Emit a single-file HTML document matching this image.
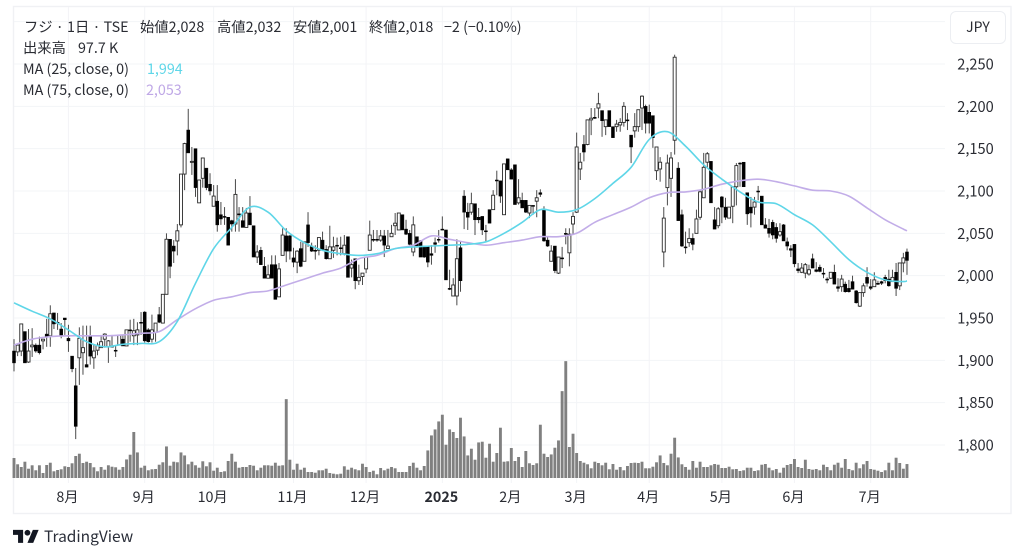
<!DOCTYPE html>
<html lang="ja">
<head>
<meta charset="utf-8">
<title>フジ 1日 TSE</title>
<style>
html,body{margin:0;padding:0;background:#fff;}
#chart{position:relative;width:1024px;height:558px;overflow:hidden;background:#fff;font-family:"Noto Sans CJK JP","Liberation Sans",sans-serif;color:#2a2c33;}
#chart svg{position:absolute;left:0;top:0;}
.t{position:absolute;white-space:nowrap;font-size:14.3px;line-height:20px;}
#jpy{position:absolute;left:950px;top:11px;width:54px;height:31px;border:1px solid #eceef2;border-radius:6px;text-align:center;line-height:31px;font-size:14px;color:#2a2c33;background:#fff;}
</style>
</head>
<body>
<div id="chart">
<svg id="plot" width="1024" height="558" viewBox="0 0 1024 558"></svg>
<div class="t" style="left:24px;top:17px">フジ · 1日 · TSE</div>
<div class="t" style="left:140px;top:17px">始値2,028</div>
<div class="t" style="left:217px;top:17px">高値2,032</div>
<div class="t" style="left:293px;top:17px">安値2,001</div>
<div class="t" style="left:369px;top:17px">終値2,018</div>
<div class="t" style="left:444px;top:17px">−2 (−0.10%)</div>
<div class="t" style="left:23px;top:38px">出来高</div>
<div class="t" style="left:78px;top:38px">97.7 K</div>
<div class="t" style="left:23px;top:59px">MA (25, close, 0)</div>
<div class="t" style="left:147px;top:59px;color:#5fd6e8">1,994</div>
<div class="t" style="left:23px;top:80px">MA (75, close, 0)</div>
<div class="t" style="left:146px;top:80px;color:#bfa8e6">2,053</div>
<div id="jpy">JPY</div>
<svg width="26" height="14" viewBox="0 0 36 19" style="left:13px;top:529px"><path d="M14 19H7V8H0V1h14v18zM28 19h-8l7.5-18h8L28 19z" fill="#131722"/><circle cx="20" cy="5" r="4" fill="#131722"/></svg>
<div class="t" style="left:44px;top:526px;font-size:15.5px;color:#2a2e39">TradingView</div>
</div>
<script>
const opens = [1911,1910,1911,1934,1898,1916,1918,1918,1923,1931,
1929,1956,1945,1937,1950,1926,1905,1870,1903,1909,
1895,1929,1903,1912,1915,1925,1916,1916,1912,1918,
1925,1917,1936,1929,1930,1945,1957,1936,1925,1933,
1954,1944,1978,2043,2035,2041,2060,2120,2172,2134,
2150,2086,2115,2127,2108,2082,2088,2072,2070,2069,
2065,2061,2073,2065,2057,2074,2059,2022,2030,2011,
1997,2013,2013,1975,2024,2047,2047,2021,2016,2032,
2017,2060,2035,2030,2030,2042,2031,2020,2030,2036,
2033,2026,2046,2009,2020,1994,1999,2008,2030,2043,
2043,2042,2047,2032,2046,2059,2054,2072,2055,2050,
2028,2046,2041,2035,2035,2026,2039,2043,2055,2054,
1985,1976,1976,2033,2094,2075,2075,2085,2069,2070,
2053,2078,2078,2113,2112,2072,2138,2125,2131,2086,
2089,2089,2074,2083,2088,2098,2078,2042,2017,2035,
2003,2021,2050,2027,2061,2075,2126,2155,2155,2184,
2187,2198,2195,2176,2195,2176,2176,2178,2181,2184,
2166,2171,2176,2198,2200,2193,2189,2124,2126,2028,
2104,2115,2160,2127,2072,2034,2039,2044,2050,2069,
2092,2134,2135,2066,2059,2093,2081,2068,2082,2105,
2133,2134,2098,2081,2081,2100,2094,2060,2056,2063,
2057,2048,2060,2040,2032,2037,2008,2004,2003,2002,
2020,2007,2010,2003,1996,1997,2004,1987,1987,1990,
1985,1993,1982,1964,1980,1998,1987,1987,1991,1993,
1998,1996,1993,2004,1988,2015,2028];
const highs = [1925,1918,1943,1934,1937,1938,1920,1928,1925,1949,
1965,1956,1956,1944,1950,1942,1905,1891,1939,1941,
1941,1941,1918,1921,1930,1932,1924,1930,1917,1930,
1930,1936,1948,1949,1945,1957,1958,1938,1954,1944,
1963,1978,2050,2043,2042,2061,2120,2157,2197,2152,
2150,2113,2139,2127,2121,2107,2107,2087,2081,2069,
2066,2114,2081,2081,2080,2094,2059,2036,2034,2022,
2013,2024,2024,2015,2056,2056,2048,2033,2030,2040,
2040,2075,2039,2036,2045,2052,2036,2059,2046,2045,
2046,2048,2046,2019,2020,2013,2003,2022,2065,2054,
2054,2054,2054,2054,2060,2074,2074,2072,2066,2054,
2070,2046,2042,2035,2035,2036,2045,2054,2070,2054,
2007,1997,2043,2040,2101,2086,2098,2085,2080,2070,
2060,2078,2101,2124,2112,2132,2138,2127,2131,2114,
2098,2089,2083,2083,2101,2102,2082,2046,2036,2035,
2022,2034,2056,2056,2075,2169,2145,2166,2184,2198,
2198,2216,2195,2184,2195,2176,2184,2186,2205,2192,
2166,2192,2196,2213,2202,2202,2189,2152,2140,2081,
2143,2146,2261,2134,2078,2052,2056,2050,2078,2101,
2145,2146,2135,2081,2081,2094,2092,2081,2105,2133,
2134,2134,2098,2093,2093,2106,2094,2068,2067,2066,
2062,2062,2061,2045,2036,2037,2015,2015,2015,2013,
2026,2016,2013,2009,1998,2004,2013,1997,2001,1993,
1995,2000,1983,1980,1991,2010,1996,2004,1994,1994,
2001,2007,2007,2015,2015,2027,2032];
const lows = [1887,1905,1905,1897,1897,1904,1909,1907,1913,1916,
1916,1937,1936,1926,1930,1910,1886,1807,1871,1883,
1892,1895,1890,1906,1915,1915,1897,1915,1904,1918,
1917,1917,1922,1918,1918,1930,1921,1921,1921,1922,
1944,1944,1978,1997,2015,2024,2057,2101,2145,2119,
2093,2086,2104,2101,2095,2082,2052,2060,2060,2036,
2052,2052,2052,2057,2057,2060,2022,2015,2013,1997,
1997,1997,1972,1975,2024,2016,2019,2010,2003,2010,
2017,2034,2028,2019,2024,2030,2019,2020,2021,2024,
2024,2024,1998,1998,1984,1989,1989,2003,2030,2040,
2040,2040,2022,2032,2046,2048,2054,2054,2048,2036,
2023,2033,2022,2021,2010,2013,2027,2039,2054,1995,
1983,1976,1965,1981,2055,2054,2072,2048,2062,2048,
2040,2062,2078,2095,2086,2072,2125,2114,2084,2084,
2080,2074,2068,2072,2069,2093,2040,2034,2017,2003,
2002,2009,2037,2011,2048,2074,2113,2135,2154,2166,
2185,2186,2164,2166,2176,2163,2170,2170,2176,2172,
2133,2163,2170,2172,2168,2168,2151,2113,2111,2010,
2083,2093,2143,2065,2034,2026,2034,2030,2050,2066,
2092,2127,2086,2055,2056,2062,2066,2068,2062,2083,
2105,2105,2060,2057,2072,2089,2060,2056,2045,2043,
2039,2046,2041,2030,2022,2010,2003,2003,1997,2000,
2009,2004,2004,1997,1991,1996,1990,1981,1981,1980,
1980,1984,1967,1963,1975,1987,1983,1987,1989,1989,
1991,1987,1993,1976,1983,2004,2001];
const closes = [1897,1918,1943,1897,1911,1918,1911,1909,1925,1928,
1955,1943,1944,1929,1948,1923,1890,1822,1926,1915,
1892,1905,1911,1918,1922,1931,1923,1917,1911,1930,
1917,1936,1935,1935,1936,1944,1923,1922,1936,1944,
1945,1978,2043,2011,2029,2053,2120,2156,2145,2135,
2104,2113,2139,2104,2100,2094,2060,2067,2069,2036,
2061,2096,2072,2057,2074,2060,2022,2028,2013,1997,
2001,1997,1972,2008,2048,2029,2029,2016,2029,2011,
2040,2039,2029,2029,2045,2031,2020,2034,2034,2035,
2032,2036,1998,2013,1994,1998,2003,2022,2048,2042,
2042,2047,2036,2035,2050,2062,2074,2054,2049,2037,
2060,2034,2022,2022,2016,2024,2037,2042,2054,1995,
1984,1989,2020,1994,2075,2069,2085,2066,2066,2054,
2052,2062,2095,2112,2094,2132,2125,2114,2084,2092,
2080,2075,2083,2082,2092,2096,2041,2035,2029,2006,
2022,2020,2049,2049,2070,2152,2134,2146,2184,2186,
2186,2203,2183,2184,2176,2163,2179,2181,2200,2183,
2152,2176,2196,2212,2180,2180,2163,2152,2134,2068,
2133,2139,2258,2065,2035,2033,2044,2037,2067,2099,
2128,2144,2086,2055,2079,2081,2069,2081,2105,2130,
2132,2105,2073,2074,2087,2099,2060,2056,2050,2048,
2044,2052,2041,2035,2030,2014,2006,2009,2013,2007,
2009,2005,2005,2002,1995,2004,1990,1985,1996,1981,
1981,1984,1968,1980,1988,1991,1985,1995,1990,1991,
1994,1988,1998,1985,2015,2021,2018];
const volumes = [140,96,77,114,65,89,54,89,35,91,107,47,56,61,82,77,103,154,170,105,114,105,75,47,77,58,89,79,75,58,77,130,163,322,179,72,86,54,61,63,93,110,221,86,114,110,179,158,96,114,89,72,117,82,110,51,72,42,47,119,170,114,72,77,77,91,86,54,72,89,89,86,107,86,89,552,128,58,100,58,72,42,42,37,54,54,65,35,30,26,
30,82,58,72,61,54,100,77,42,51,26,70,54,65,77,68,42,42,42,84,107,72,54,84,193,298,340,396,443,233,340,322,280,422,291,158,205,128,249,254,142,240,114,175,352,114,117,210,119,147,77,189,103,91,103,373,170,147,165,212,263,608,818,217,310,175,119,107,96,68,114,105,89,107,61,98,58,77,54,84,105,107,105,114,68,68,79,110,158,105,89,170,282,144,
96,77,58,119,72,114,77,77,89,98,93,70,70,79,61,63,49,54,72,72,49,54,93,98,72,54,63,37,72,91,98,133,77,70,128,63,58,63,54,93,77,54,93,107,72,133,63,54,107,68,96,119,63,58,51,42,54,107,54,142,105,65,97.7];
const ma25Values = [1968,1958,1949,1936,1922,1916,1919,1920,1922,1946,1991,2032,2057,2081,2075,2053,2039,2030,2026,2024,2026,2032,2034,2035,2036,2037,2040,2050,2063,2078,2075,2078,2091,2109,2128,2161,2170,2153,2131,2114,2099,2087,2085,2072,2060,2040,2019,2004,1995,1993,1994];
const ma75Values = [1918,1925,1928,1929,1929,1929,1930,1932,1934,1948,1961,1971,1975,1980,1982,1989,1996,2003,2009,2020,2024,2032,2036,2047,2043,2039,2036,2039,2042,2046,2046,2050,2063,2072,2081,2092,2098,2099,2102,2108,2112,2114,2111,2106,2101,2100,2094,2080,2066,2055,2053];
const maSampleStep = 5;
const monthBars = [15,36,55,77,97,118,137,155,175,195,215,236];
const monthLabels = ['8月','9月','10月','11月','12月','2025','2月','3月','4月','5月','6月','7月'];
const priceTicks = [2250,2200,2150,2100,2050,2000,1950,1900,1850,1800];
const gridOnlyPrices = [2300];

const NS = 'http://www.w3.org/2000/svg';
const svg = document.getElementById('plot');
const FONT = '"Noto Sans CJK JP","Liberation Sans",sans-serif';
const BAR0 = 14, BAR_STEP = 3.63, Y2250 = 64, PX_PER_PRICE = 0.8467, VOL_BASE = 478, VOL_K_PER_PX = 7;
function xScale(i){ return BAR0 + BAR_STEP * i; }
function yScale(p){ return Y2250 + (2250 - p) * PX_PER_PRICE; }
function volHeight(v){ return v / VOL_K_PER_PX; }
function fmt(n){ return n.toString().replace(/\B(?=(\d{3})+$)/, ','); }
function mk(tag, attrs, parent){
  const el = document.createElementNS(NS, tag);
  for (const k in attrs) el.setAttribute(k, attrs[k]);
  (parent || svg).appendChild(el);
  return el;
}

const frame = mk('rect', {x:13.5, y:6.5, width:997.5, height:507, fill:'none', stroke:'#f0f1f4', 'stroke-width':1.4});



gridOnlyPrices.concat(priceTicks).forEach(function(p){
  const line = mk('line', {x1:14, x2:945, y1:yScale(p), y2:yScale(p), stroke:'#f3f4f7', 'stroke-width':1});
  
  
});
monthBars.forEach(function(b, i){
  const line = mk('line', {x1:xScale(b), x2:xScale(b), y1:7, y2:483, stroke:'#f3f4f7', 'stroke-width':1});
  
  
  const label = mk('text', {x:xScale(b) - 1, y:502, 'text-anchor':'middle', 'font-size':14.3, fill:'#2a2c33', 'font-family':FONT, 'font-weight': monthLabels[i] === '2025' ? 700 : 400});
  label.textContent = monthLabels[i];
  
  
});
priceTicks.forEach(function(p){
  const label = mk('text', {x:975.5, y:yScale(p) + 5.5, 'text-anchor':'middle', 'font-size':14.6, fill:'#2a2c33', 'font-family':FONT});
  label.textContent = fmt(p);
  
  
});

volumes.forEach(function(v, i){
  const h = volHeight(v);
  const bar = mk('rect', {x:xScale(i) - 1.45, y:VOL_BASE - h, width:2.9, height:h, fill:'#808080'});
  
  
});

opens.forEach(function(o, i){
  const c = closes[i], x = xScale(i), up = c >= o;
  const top = yScale(Math.max(o, c)), bot = yScale(Math.min(o, c));
  const wick = mk('line', {x1:x, x2:x, y1:yScale(highs[i]), y2:yScale(lows[i]), stroke:'#4a4a4a', 'stroke-width':1});
  
  
  const body = mk('rect', {x:x - 1.5, y:top, width:3, height:Math.max(bot - top, 1), fill: up ? '#fff' : '#000', stroke: up ? '#2a2a2a' : '#000', 'stroke-width': up ? 0.9 : 0.5});
  
  
});

function maPath(values){
  const pts = values.map(function(v, k){
    return [xScale(Math.min(k * maSampleStep, opens.length - 1)), yScale(v)];
  });
  let d = 'M' + pts[0][0].toFixed(1) + ' ' + pts[0][1].toFixed(1);
  for (let k = 0; k < pts.length - 1; k++) {
    const p0 = pts[Math.max(k - 1, 0)], p1 = pts[k], p2 = pts[k + 1], p3 = pts[Math.min(k + 2, pts.length - 1)];
    d += 'C' + (p1[0] + (p2[0] - p0[0]) / 6).toFixed(1) + ' ' + (p1[1] + (p2[1] - p0[1]) / 6).toFixed(1) + ' ' +
         (p2[0] - (p3[0] - p1[0]) / 6).toFixed(1) + ' ' + (p2[1] - (p3[1] - p1[1]) / 6).toFixed(1) + ' ' +
         p2[0].toFixed(1) + ' ' + p2[1].toFixed(1);
  }
  return d;
}
const ma75Line = mk('path', {d:maPath(ma75Values), fill:'none', stroke:'#c2ade8', 'stroke-width':1.6, 'stroke-linejoin':'round'});


const ma25Line = mk('path', {d:maPath(ma25Values), fill:'none', stroke:'#5fd6e8', 'stroke-width':1.6, 'stroke-linejoin':'round'});


</script>
</body>
</html>
